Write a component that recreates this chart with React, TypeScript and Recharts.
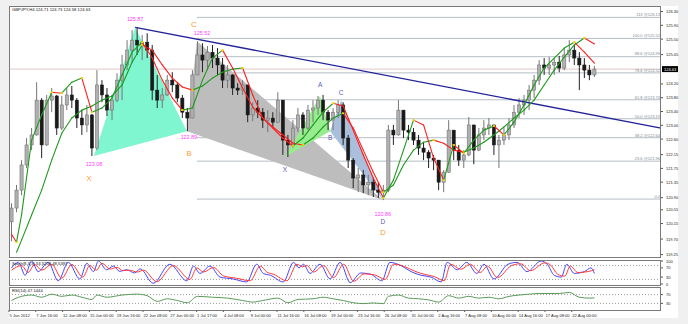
import React from 'react';
import { ComposedChart, Bar, Line, Scatter, XAxis, YAxis, ReferenceLine, ReferenceDot } from 'recharts';

// GBPJPY H4 — one point per 3 H4 bars
const highs = [
  120.74, 121.27, 121.99, 122.63, 122.92, 124.25, 123.79, 123.88, 124.08, 123.88,
  123.85, 124.08, 124.14, 123.79, 123.44, 123.59, 123.33, 124.60, 124.31, 124.08,
  123.88, 124.51, 125.04, 125.47, 125.76, 125.84, 125.62, 125.67, 125.33, 124.46,
  124.08, 124.46, 124.54, 124.25, 123.88, 123.50, 124.60, 125.44, 125.38, 125.30,
  125.33, 125.24, 124.95, 124.75, 124.48, 124.22, 124.31, 124.17, 123.67, 123.73,
  123.50, 123.44, 123.38, 123.96, 123.73, 122.72, 123.15, 123.50, 123.38, 123.59,
  123.73, 123.85, 123.88, 123.44, 123.50, 123.73, 123.67, 122.72, 122.05, 121.76,
  121.70, 121.56, 121.47, 121.35, 121.27, 123.01, 123.01, 123.73, 123.44, 123.01,
  122.92, 122.72, 122.51, 122.28, 122.14, 121.99, 121.70, 123.15, 122.86, 122.43,
  122.28, 123.24, 123.01, 122.92, 123.15, 123.21, 123.01, 122.72, 122.92, 123.21,
  123.59, 123.79, 123.88, 124.17, 124.46, 124.89, 124.95, 124.98, 124.95, 125.01,
  125.24, 125.47, 125.33, 125.12, 124.95, 124.75, 124.72,
];
const lows = [
  119.64, 120.48, 120.97, 121.76, 122.28, 122.70, 122.05, 122.40, 123.38, 122.72,
  122.86, 123.44, 123.50, 122.92, 122.72, 122.80, 122.11, 122.28, 123.67, 123.27,
  123.15, 123.67, 123.73, 124.60, 124.83, 125.04, 124.89, 124.95, 123.73, 123.50,
  123.50, 123.85, 123.96, 123.67, 123.21, 122.83, 123.21, 124.46, 124.54, 124.60,
  124.66, 124.46, 124.08, 124.08, 123.88, 123.88, 123.88, 123.09, 123.12, 123.21,
  122.92, 122.80, 122.92, 123.09, 122.14, 122.08, 122.34, 122.80, 122.72, 122.86,
  123.09, 123.30, 123.15, 122.86, 122.86, 123.21, 122.43, 121.76, 121.18, 121.06,
  121.03, 120.97, 120.92, 120.89, 120.83, 121.06, 122.43, 122.70, 122.63, 122.57,
  122.43, 122.14, 121.99, 121.76, 121.70, 121.12, 121.06, 121.62, 121.99, 121.82,
  121.76, 122.10, 121.87, 122.25, 122.57, 122.72, 122.14, 121.76, 122.43, 122.57,
  122.92, 123.21, 123.30, 123.44, 123.79, 124.17, 124.46, 124.46, 124.46, 124.54,
  124.60, 124.83, 124.75, 124.02, 124.37, 124.31, 124.40,
];
const closes = [
  120.60, 121.12, 121.85, 122.43, 122.72, 123.73, 122.43, 123.73, 123.85, 122.92,
  123.59, 123.88, 123.73, 123.21, 123.01, 123.30, 122.34, 124.17, 123.88, 123.44,
  123.73, 124.31, 124.75, 125.18, 125.47, 125.33, 125.41, 125.18, 124.02, 123.73,
  123.88, 124.31, 124.17, 123.79, 123.38, 123.21, 124.46, 125.04, 124.89, 125.12,
  124.95, 124.75, 124.31, 124.46, 124.08, 124.02, 124.17, 123.30, 123.50, 123.38,
  123.15, 123.21, 123.09, 123.73, 122.57, 122.43, 122.92, 123.30, 122.92, 123.44,
  123.50, 123.73, 123.38, 123.15, 123.38, 123.59, 122.63, 121.99, 121.47, 121.56,
  121.27, 121.35, 121.12, 121.06, 121.12, 122.86, 122.72, 123.44, 122.86, 122.80,
  122.57, 122.34, 122.22, 122.05, 121.99, 121.35, 121.64, 122.86, 122.28, 121.99,
  122.14, 123.01, 122.28, 122.72, 122.92, 123.01, 122.43, 122.57, 122.72, 123.01,
  123.38, 123.59, 123.73, 124.02, 124.31, 124.75, 124.66, 124.75, 124.83, 124.66,
  125.04, 125.18, 124.95, 124.75, 124.60, 124.46, 124.63,
];
const firstOpen = 120.2;

// moving averages: [point index, price]
const fastMA: [number, number][] = [
  [0, 119.84], [1, 119.61], [2, 120.4], [4, 122.57], [6, 123.3], [8, 123.96], [10, 123.93],
  [12, 124.25], [14, 124.37], [16, 123.38], [18, 123.5], [20, 123.79], [22, 124.46], [24, 125.12],
  [26, 125.41], [28, 124.95], [30, 124.31], [32, 123.79], [34, 123.44], [36, 123.5], [38, 124.31],
  [40, 124.95], [42, 125.18], [44, 124.66], [46, 124.08], [48, 123.53], [50, 123.21], [52, 122.92],
  [54, 122.63], [56, 122.4], [58, 122.63], [60, 123.01], [62, 123.38], [64, 123.64], [66, 123.56],
  [68, 122.86], [70, 122.14], [72, 121.47], [74, 120.89], [76, 121.41], [78, 122.28], [80, 123.15],
  [82, 123.01], [84, 122.05], [86, 121.41], [88, 122.43], [90, 122.19], [92, 122.57], [94, 122.86],
  [96, 122.98], [98, 122.72], [100, 123.09], [102, 123.59], [104, 124.17], [106, 124.66], [108, 124.95],
  [110, 125.24], [112, 125.41], [114, 125.12], [116, 124.8],
];
const slowMA: [number, number][] = [
  [1, 119.32], [2, 119.67], [4, 120.4], [6, 121.12], [8, 121.99], [10, 122.77], [12, 123.21],
  [14, 123.44], [16, 123.56], [18, 123.73], [20, 123.85], [22, 124.17], [24, 124.83], [26, 125.33],
  [28, 125.18], [30, 124.75], [32, 124.37], [34, 124.11], [36, 124.02], [38, 124.14], [40, 124.37],
  [42, 124.54], [44, 124.63], [46, 124.66], [48, 123.88], [50, 123.21], [52, 122.95], [54, 122.72],
  [56, 122.48], [58, 122.43], [60, 122.63], [62, 122.95], [64, 123.21], [66, 123.35], [68, 122.92],
  [70, 122.28], [72, 121.64], [74, 121.06], [76, 121.27], [78, 121.85], [80, 122.28], [82, 122.51],
  [84, 122.57], [86, 122.48], [88, 122.28], [90, 122.22], [92, 122.34], [94, 122.51], [96, 122.72],
  [98, 122.95], [100, 123.21], [102, 123.44], [104, 123.73], [106, 124.17], [108, 124.6], [110, 124.98],
  [112, 125.33], [114, 125.53], [116, 125.36],
];

// harmonic pattern pivots [point index, price]
const orangeX: [number, number] = [16.4, 122.11];
const orangeA: [number, number] = [24.6, 125.84];
const orangeB: [number, number] = [34.9, 122.83];
const orangeC: [number, number] = [36.9, 125.44];
const orangeD: [number, number] = [73.9, 120.83];
const blueX: [number, number] = [54.4, 122.08];
const blueA: [number, number] = [61.4, 123.85];
const blueB: [number, number] = [63.4, 122.83];
const blueC: [number, number] = [65.6, 123.73];

const trendStart: [number, number] = [24.6, 125.84];
const trendEnd: [number, number] = [129.25, 122.92];

const fibPcts = ['113', '100.0', '88.6', '78.6', '61.8', '50.0', '38.2', '23.6', '0.0'];
const fibPrices = [126.13, 125.52, 124.99, 124.52, 123.74, 123.19, 122.64, 121.96, 120.86];
const lastPrice = 124.63;

const priceTicks = [126.3, 125.9, 125.5, 125.05, 124.2, 123.8, 123.4, 123.0, 122.6, 122.15, 121.75, 121.35, 120.9, 120.55, 120.15, 119.7, 119.25];

const stochK: [number, number][] = [
  [0, 70], [1.4, 94], [2.7, 38], [4, 100], [5.3, 54], [7.3, 94], [9.3, 14], [11.3, 94], [13.6, 22],
  [15, 90], [16.3, 54], [17.3, 100], [18.9, 62], [20.3, 78], [21.5, 55], [22.9, 62], [24.5, 48],
  [25.6, 66], [28.2, 3], [31.5, 86], [34.9, 14], [36.2, 78], [37.5, 46], [39.5, 78], [41.5, 30],
  [44.1, 22], [46.8, 9], [48.8, 86], [50.1, 46], [51.5, 38], [54.1, 9], [56.1, 94], [57.2, 70],
  [58.1, 86], [59.4, 46], [61.4, 86], [63.4, 22], [65.4, 94], [67.4, 6], [69.5, 48], [71.5, 42],
  [73.7, 14], [75.3, 94], [77.5, 80], [79.5, 54], [81.5, 38], [83.5, 30], [85.5, 9], [86.7, 94],
  [88.7, 62], [90.6, 94], [92.6, 46], [94, 86], [96, 22], [98.8, 86], [100.6, 94], [102.6, 54],
  [105.4, 100], [106.6, 86], [108, 38], [109.4, 30], [110.5, 86], [112, 46], [114, 54], [115.3, 70], [116, 46],
];
const stochD: [number, number][] = [
  [0, 60], [2, 80], [3.3, 50], [4.6, 85], [6, 60], [8, 85], [10, 25], [12, 85], [14.2, 30], [15.6, 80],
  [16.9, 60], [18, 90], [19.6, 65], [21, 72], [22.2, 58], [23.5, 60], [25, 52], [26.3, 60], [28.9, 10],
  [32.2, 80], [35.5, 20], [36.9, 70], [38.2, 52], [40.2, 72], [42.2, 35], [44.8, 25], [47.5, 14],
  [49.5, 78], [50.8, 52], [52.2, 42], [54.8, 14], [56.8, 86], [57.9, 75], [58.8, 80], [60.1, 52],
  [62.1, 80], [64.1, 28], [66.1, 86], [68.1, 12], [70.2, 44], [72.2, 40], [74.4, 20], [76, 86],
  [78.2, 76], [80.2, 56], [82.2, 42], [84.2, 32], [86.1, 14], [87.4, 86], [89.4, 64], [91.3, 86],
  [93.3, 50], [94.7, 78], [96.7, 28], [99.5, 80], [101.3, 88], [103.3, 58], [106.1, 92], [107.3, 82],
  [108.7, 42], [110.1, 34], [111.2, 78], [112.7, 50], [114.7, 54], [116, 62],
];
const rsi: [number, number][] = [
  [0, 43], [1.4, 58], [4, 68], [6, 58], [8, 72], [10, 62], [12, 68], [14, 58], [16, 48], [17, 68],
  [19, 58], [22, 68], [25, 72], [27, 65], [29, 39], [31, 51], [33, 43], [35, 33], [37, 62], [40, 58],
  [43, 54], [46, 43], [48, 36], [50, 43], [53, 54], [55, 33], [57, 48], [60, 51], [62, 58], [64, 51],
  [66, 43], [68, 33], [70, 29], [72, 32], [74, 29], [75, 62], [77, 68], [79, 54], [81, 51], [83, 46],
  [85, 36], [87, 65], [89, 54], [91, 62], [93, 54], [95, 58], [97, 51], [99, 62], [101, 68], [103, 72],
  [105, 75], [107, 75], [109, 75], [111, 80], [113, 58], [115, 54], [116, 55],
];

const timeLabels = [
  '5 Jun 2012', '7 Jun 16:00', '12 Jun 08:00', '15 Jun 00:00', '19 Jun 16:00', '22 Jun 08:00',
  '27 Jun 00:00', '1 Jul 17:00', '4 Jul 08:00', '9 Jul 00:00', '11 Jul 16:00', '16 Jul 08:00',
  '19 Jul 00:00', '23 Jul 16:00', '26 Jul 08:00', '31 Jul 00:00', '2 Aug 16:00', '7 Aug 08:00',
  '10 Aug 00:00', '14 Aug 16:00', '17 Aug 08:00', '22 Aug 00:00',
];

// ---------- layout / styles ----------
const X_DOMAIN: [number, number] = [-0.5, 129.25];
const Y_DOMAIN: [number, number] = [119.18, 126.46];
const FONT = '"Liberation Sans", Arial, sans-serif';
const MAGENTA = '#ff3cff';
const ORANGE = '#ff9a2a';
const PURPLE = '#5a5ac0';
const GREEN = '#1e9a1e';
const RED = '#ff1e1e';
const MAIN_MARGIN = { top: 6, right: 0, bottom: 1, left: 9 };

const bars = closes.map((c, i) => ({
  i,
  o: i === 0 ? firstOpen : closes[i - 1],
  c,
  h: highs[i],
  l: lows[i],
  range: [lows[i], highs[i]],
}));
const toPts = (arr: [number, number][]) => arr.map(([i, v]) => ({ i, v }));

const Candle = (p: any) => {
  const { x, y, width, height, payload } = p;
  const top = Math.min(y, y + height);
  const hh = Math.abs(height);
  const { o, c, h, l } = payload;
  const cx = x + width / 2;
  const span = h - l || 1;
  const yy = (v: number) => top + ((h - v) / span) * hh;
  const bTop = yy(Math.max(o, c));
  const bBot = yy(Math.min(o, c));
  const bull = c >= o;
  return (
    <g>
      <line x1={cx} x2={cx} y1={top} y2={top + hh} stroke={bull ? '#767676' : '#222'} strokeWidth={1} />
      <rect x={cx - 1.6} y={bTop} width={3.2} height={Math.max(bBot - bTop, 1)} fill={bull ? '#b0b0b0' : '#1a1a1a'} stroke={bull ? '#686868' : '#1a1a1a'} strokeWidth={0.5} />
    </g>
  );
};

const polygonLine = (fill: string) => (props: any) => {
  const pts = props.points || [];
  return <polygon points={pts.map((q: any) => `${q.x},${q.y}`).join(' ')} fill={fill} stroke="none" />;
};

const maLine = (props: any) => {
  const pts: { x: number; y: number }[] = props.points || [];
  const parts: React.ReactNode[] = [];
  for (let k = 1; k < pts.length; k++) {
    const a = pts[k - 1];
    const b = pts[k];
    const up = b.y <= a.y;
    parts.push(
      <line key={'s' + k} x1={a.x} y1={a.y} x2={b.x} y2={b.y} stroke={up ? GREEN : RED} strokeWidth={1.1} strokeLinecap="round" />
    );
  }
  for (let k = 1; k < pts.length - 1; k++) {
    const up1 = pts[k].y <= pts[k - 1].y;
    const up2 = pts[k + 1].y <= pts[k].y;
    if (up1 !== up2) {
      parts.push(<rect key={'t' + k} x={pts[k].x - 1.2} y={pts[k].y - 0.8} width={2.4} height={1.6} fill="#f0e000" />);
    }
  }
  return <g>{parts}</g>;
};

const noDot = () => <g />;

const pivotText = (text: string, color: string, size: number, dx: number, dy: number) => (props: any) => {
  const { viewBox } = props;
  const cx = viewBox.x + viewBox.width / 2;
  const cy = viewBox.y + viewBox.height / 2;
  return (
    <text x={cx + dx} y={cy + dy} fill={color} fontSize={size} textAnchor="middle" dominantBaseline="central" fontFamily={FONT}>
      {text}
    </text>
  );
};

const fibLabel = (text: string) => (props: any) => {
  const { viewBox } = props;
  return (
    <text x={viewBox.x + viewBox.width - 1} y={viewBox.y - 1.2} fill="#7d8a96" fontSize={4} textAnchor="end" fontFamily={FONT}>
      {text}
    </text>
  );
};

const priceTag = (props: any) => {
  const { viewBox } = props;
  const x = viewBox.x + viewBox.width;
  const y = viewBox.y;
  return (
    <g>
      <rect x={x + 1} y={y - 3} width={16} height={6} fill="#000" />
      <text x={x + 3} y={y + 0.2} fill="#fff" fontSize={4} dominantBaseline="central" fontFamily={FONT}>
        {lastPrice.toFixed(2)}
      </text>
    </g>
  );
};

const rightTick = (fmt: (v: number) => string) => (p: any) => (
  <text x={p.x + 1} y={p.y} fill="#222" fontSize={4} dominantBaseline="central" fontFamily={FONT}>
    {fmt(p.payload.value)}
  </text>
);

const timeTicks = timeLabels.map((_, k) => (k * 16) / 3 - 0.5);
const timeTick = (p: any) => {
  const idx = timeTicks.indexOf(p.payload.value);
  return (
    <text x={p.x + 0.5} y={p.y + 3} fill="#222" fontSize={4.1} fontFamily={FONT}>
      {timeLabels[idx]}
    </text>
  );
};

const panelBorder = (top: number, height: number) => (
  <div style={{ position: 'absolute', left: 9, top, width: 652, height, border: '1px solid #7a7a7a', boxSizing: 'border-box', pointerEvents: 'none' }} />
);

const layer: React.CSSProperties = { position: 'absolute', left: 0, top: 0 };

export default function App() {
  return (
    <div style={{ position: 'absolute', left: 0, top: 0, width: 688, height: 324, background: '#f0f0f0', overflow: 'hidden', fontFamily: FONT }}>
      <div style={{ position: 'absolute', left: 9, top: 6, width: 669, height: 312, background: '#fff' }} />

      {/* background layer: fibonacci levels and harmonic pattern fills */}
      <div style={layer}>
        <ComposedChart width={688} height={258} data={bars} margin={MAIN_MARGIN}>
          <XAxis type="number" dataKey="i" domain={X_DOMAIN} hide allowDataOverflow />
          <YAxis orientation="right" width={27} domain={Y_DOMAIN} allowDataOverflow tick={false} axisLine={false} tickLine={false} />
          <ReferenceLine y={lastPrice} stroke="#e2c6c6" strokeWidth={1} ifOverflow="visible" />
          {fibPrices.map((p, k) => (
            <ReferenceLine
              key={'fib' + k}
              segment={[{ x: orangeC[0], y: p }, { x: X_DOMAIN[1], y: p }]}
              stroke="#b6bec6"
              strokeWidth={1}
              ifOverflow="visible"
              label={fibLabel(k === fibPcts.length - 1 ? fibPcts[k] : `${fibPcts[k]} @${p.toFixed(2)}`)}
            />
          ))}
          <Scatter data={toPts([orangeX, orangeA, orangeB])} dataKey="v" line={polygonLine('#7ff5d0')} shape={noDot} isAnimationActive={false} />
          <Scatter data={toPts([orangeB, orangeC, orangeD])} dataKey="v" line={polygonLine('#bdbdbd')} shape={noDot} isAnimationActive={false} />
          <Scatter data={toPts([blueX, blueA, blueB])} dataKey="v" line={polygonLine('#96ec8e')} shape={noDot} isAnimationActive={false} />
          <Scatter data={toPts([blueB, blueC, orangeD])} dataKey="v" line={polygonLine('#a9bfdc')} shape={noDot} isAnimationActive={false} />
        </ComposedChart>
      </div>

      {/* foreground layer: candles, averages, trend line, labels */}
      <div style={layer}>
        <ComposedChart width={688} height={258} data={bars} margin={MAIN_MARGIN}>
          <XAxis type="number" dataKey="i" domain={X_DOMAIN} hide allowDataOverflow />
          <YAxis
            orientation="right"
            width={27}
            domain={Y_DOMAIN}
            allowDataOverflow
            ticks={priceTicks}
            interval={0}
            axisLine={false}
            tickSize={2}
            tickLine={{ stroke: '#555' }}
            tick={rightTick((v) => v.toFixed(2))}
          />
          <Bar dataKey="range" shape={Candle} isAnimationActive={false} />
          <Scatter data={toPts(slowMA)} dataKey="v" line={maLine} shape={noDot} isAnimationActive={false} />
          <Scatter data={toPts(fastMA)} dataKey="v" line={maLine} shape={noDot} isAnimationActive={false} />
          <ReferenceLine
            segment={[{ x: trendStart[0], y: trendStart[1] }, { x: trendEnd[0], y: trendEnd[1] }]}
            stroke="#22229a"
            strokeWidth={1.3}
            ifOverflow="visible"
          />
          <ReferenceLine y={lastPrice} stroke="none" label={priceTag} ifOverflow="visible" />
          <ReferenceDot x={orangeA[0]} y={orangeA[1]} r={0} ifOverflow="visible" label={pivotText('125.87', MAGENTA, 5.4, 0, -8)} />
          <ReferenceDot x={orangeX[0]} y={orangeX[1]} r={0} ifOverflow="visible" label={pivotText('123.08', MAGENTA, 5.4, 0, 8)} />
          <ReferenceDot x={orangeX[0]} y={orangeX[1]} r={0} ifOverflow="visible" label={pivotText('X', ORANGE, 7.5, -5, 23)} />
          <ReferenceDot x={orangeB[0]} y={orangeB[1]} r={0} ifOverflow="visible" label={pivotText('122.89', MAGENTA, 5.4, 2, 6)} />
          <ReferenceDot x={orangeB[0]} y={orangeB[1]} r={0} ifOverflow="visible" label={pivotText('B', ORANGE, 7.5, 2, 22)} />
          <ReferenceDot x={orangeC[0]} y={orangeC[1]} r={0} ifOverflow="visible" label={pivotText('125.52', MAGENTA, 5.4, 5, -8)} />
          <ReferenceDot x={orangeC[0]} y={orangeC[1]} r={0} ifOverflow="visible" label={pivotText('C', ORANGE, 8, -3, -17)} />
          <ReferenceDot x={orangeD[0]} y={orangeD[1]} r={0} ifOverflow="visible" label={pivotText('120.86', MAGENTA, 5.4, 0, 14)} />
          <ReferenceDot x={orangeD[0]} y={orangeD[1]} r={0} ifOverflow="visible" label={pivotText('D', PURPLE, 6.5, 0, 21)} />
          <ReferenceDot x={orangeD[0]} y={orangeD[1]} r={0} ifOverflow="visible" label={pivotText('D', ORANGE, 7.5, 0, 32)} />
          <ReferenceDot x={blueX[0]} y={blueX[1]} r={0} ifOverflow="visible" label={pivotText('X', PURPLE, 6.5, 0, 12)} />
          <ReferenceDot x={blueA[0]} y={blueA[1]} r={0} ifOverflow="visible" label={pivotText('A', PURPLE, 6.5, 0, -11)} />
          <ReferenceDot x={blueB[0]} y={blueB[1]} r={0} ifOverflow="visible" label={pivotText('B', PURPLE, 6.5, 0, 6)} />
          <ReferenceDot x={blueC[0]} y={blueC[1]} r={0} ifOverflow="visible" label={pivotText('C', PURPLE, 6.5, 0, -8)} />
        </ComposedChart>
      </div>

      <div style={{ position: 'absolute', left: 0, top: 259 }}>
        <ComposedChart width={688} height={27} margin={{ top: 2, right: 0, bottom: 2, left: 9 }}>
          <XAxis type="number" dataKey="i" domain={X_DOMAIN} hide allowDataOverflow />
          <YAxis orientation="right" width={27} domain={[0, 100]} ticks={[0, 30, 70, 100]} interval={0} axisLine={false} tickSize={2} tickLine={{ stroke: '#555' }} tick={rightTick((v) => String(v))} />
          <ReferenceLine y={80} stroke="#9a9a9a" strokeDasharray="1 2" />
          <ReferenceLine y={20} stroke="#9a9a9a" strokeDasharray="1 2" />
          <Line data={toPts(stochK)} dataKey="v" type="monotone" stroke="#4646ff" strokeWidth={1} dot={false} isAnimationActive={false} />
          <Line data={toPts(stochD)} dataKey="v" type="monotone" stroke="#ff3a3a" strokeWidth={1} dot={false} isAnimationActive={false} />
        </ComposedChart>
      </div>

      <div style={{ position: 'absolute', left: 0, top: 286 }}>
        <ComposedChart width={688} height={38} margin={{ top: 2, right: 0, bottom: 0, left: 9 }}>
          <XAxis
            type="number"
            dataKey="i"
            domain={X_DOMAIN}
            allowDataOverflow
            ticks={timeTicks}
            interval={0}
            axisLine={false}
            tickSize={2}
            tickLine={{ stroke: '#555' }}
            height={14}
            tick={timeTick}
          />
          <YAxis orientation="right" width={27} domain={[0, 100]} ticks={[30, 70]} interval={0} axisLine={false} tickSize={2} tickLine={{ stroke: '#555' }} tick={rightTick((v) => String(v))} />
          <ReferenceLine y={70} stroke="#9a9a9a" strokeDasharray="1 2" />
          <ReferenceLine y={30} stroke="#9a9a9a" strokeDasharray="1 2" />
          <Line data={toPts(rsi)} dataKey="v" type="monotone" stroke="#5a9a5a" strokeWidth={1} dot={false} isAnimationActive={false} />
        </ComposedChart>
      </div>

      {panelBorder(6, 252)}
      {panelBorder(260, 26)}
      {panelBorder(287, 24)}

      <svg width={688} height={324} style={{ position: 'absolute', left: 0, top: 0, pointerEvents: 'none' }}>
        <text x={12} y={11} fontSize={4.2} fill="#111" fontFamily={FONT}>GBPJPY,H4  124.71 124.73 124.58 124.63</text>
        <text x={12} y={265} fontSize={4.2} fill="#111" fontFamily={FONT}>Stoch(8,3,3) 53.5208 48.5397</text>
        <text x={12} y={292} fontSize={4.2} fill="#111" fontFamily={FONT}>RSI(14) 47.1444</text>
      </svg>
    </div>
  );
}
